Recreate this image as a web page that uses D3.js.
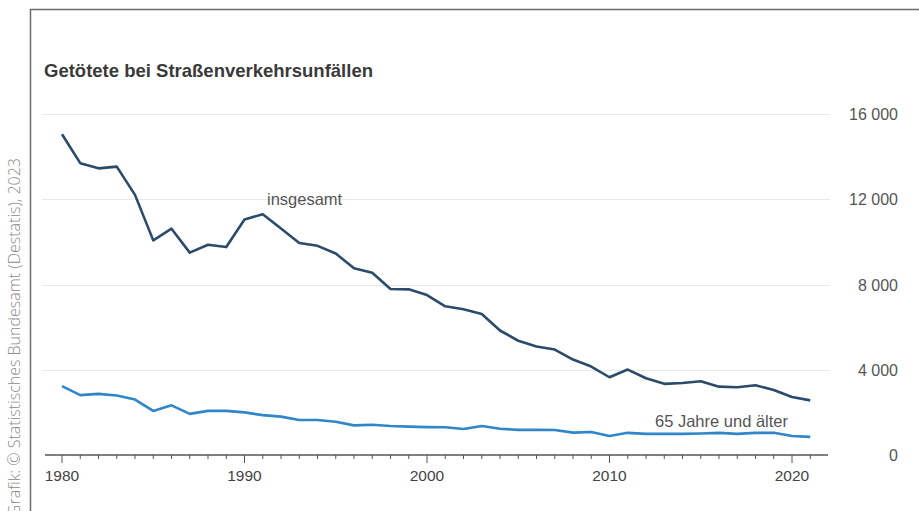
<!DOCTYPE html>
<html><head><meta charset="utf-8">
<script src="https://cdn.jsdelivr.net/npm/d3@7"></script>
<style>
html,body{margin:0;padding:0;background:#fff;}
svg{display:block;}
</style></head>
<body>
<svg id="chart" width="919" height="511"></svg>
<script>
const years = d3.range(1980, 2022);
const totalDeaths = [15050,13693,13450,13531,12206,10070,10619,9496,9862,9756,
  11046,11300,10631,9949,9814,9454,8758,8549,7792,7772,
  7503,6977,6842,6613,5842,5361,5091,4949,4477,4152,
  3648,4009,3600,3339,3377,3459,3206,3180,3275,3046,2719,2562];
const seniorDeaths = [3230,2810,2870,2790,2600,2070,2330,1930,2070,2070,
  2000,1870,1800,1640,1640,1560,1390,1420,1360,1330,
  1310,1300,1220,1360,1230,1180,1180,1170,1050,1080,
  890,1040,990,990,990,1010,1040,990,1040,1040,890,850];
const yTicks = [0,4000,8000,12000,16000];
const xTicks = [1980,1990,2000,2010,2020];
const title = "Getötete bei Straßenverkehrsunfällen";
const source = "Grafik: © Statistisches Bundesamt (Destatis), 2023";
const labelTotal = "insgesamt";
const labelSenior = "65 Jahre und älter";

const font = "'Liberation Sans', Arial, sans-serif";
const svg = d3.select("#chart");
// frame
svg.append("path").attr("d","M30.5,511 L30.5,9.5 L919,9.5")
  .attr("fill","none").attr("stroke","#6e6e6e").attr("stroke-width",1.5);

svg.append("text").attr("transform","translate(20,158) rotate(-90)")
  .attr("text-anchor","end")
  .attr("font-family","'Open Sans', sans-serif").attr("font-size",16)
  .attr("fill","#8a8a8a").attr("font-weight",300).text(source);

svg.append("text").attr("x",44).attr("y",77)
  .attr("font-family",font).attr("font-size",18.5)
  .attr("font-weight","bold").attr("fill","#3a3a3a").text(title);

const x = d3.scaleLinear().domain([1980,2020]).range([62,792]);
const y = d3.scaleLinear().domain([0,16000]).range([455,114]);

// gridlines
svg.append("g").selectAll("line").data(yTicks.filter(d=>d>0)).join("line")
  .attr("x1",42).attr("x2",830).attr("y1",d=>Math.round(y(d))+0.5).attr("y2",d=>Math.round(y(d))+0.5)
  .attr("stroke","#e9e9e9").attr("stroke-width",1);

// y labels
svg.append("g").selectAll("text").data(yTicks).join("text")
  .attr("x",898).attr("y",d=>y(d)+6).attr("text-anchor","end")
  .attr("font-family",font).attr("font-size",16)
  .attr("fill","#555").text(d=>d3.format(",")(d).replace(/,/g," "));

// x axis
const xAxisG = svg.append("g").attr("transform","translate(0,455)");
xAxisG.append("line").attr("x1",45).attr("x2",828).attr("y1",0).attr("y2",0)
  .attr("stroke","#555").attr("stroke-width",1.4);
xAxisG.selectAll("line.minor").data(years).join("line").attr("class","minor")
  .attr("x1",d=>x(d)).attr("x2",d=>x(d)).attr("y1",0).attr("y2",d=>d%10===0?8:4)
  .attr("stroke","#555").attr("stroke-width",1);
xAxisG.selectAll("text").data(xTicks).join("text")
  .attr("x",d=>x(d)).attr("y",26).attr("text-anchor","middle")
  .attr("font-family",font).attr("font-size",15.5)
  .attr("fill","#444").text(d=>d);

const line = d3.line().x((d,i)=>x(years[i])).y(d=>y(d));
svg.append("path").datum(seniorDeaths).attr("d",line).attr("fill","none")
  .attr("stroke","#2f86c9").attr("stroke-width",2.6).attr("stroke-linejoin","round");
svg.append("path").datum(totalDeaths).attr("d",line).attr("fill","none")
  .attr("stroke","#2a4b6b").attr("stroke-width",2.6).attr("stroke-linejoin","round");

svg.append("text").attr("x",267).attr("y",205)
  .attr("font-family",font).attr("font-size",16.5)
  .attr("fill","#555").text(labelTotal);
svg.append("text").attr("x",655).attr("y",427)
  .attr("font-family",font).attr("font-size",16.5)
  .attr("fill","#555").text(labelSenior);
</script>
</body></html>
